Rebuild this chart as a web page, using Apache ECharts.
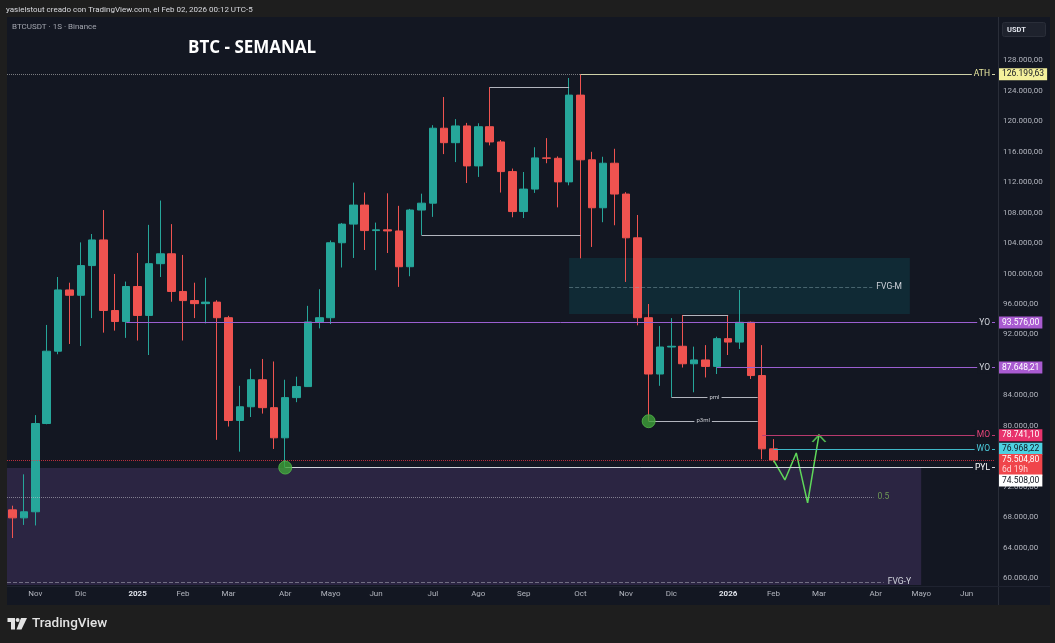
<!DOCTYPE html>
<html><head><meta charset="utf-8">
<script src="https://cdn.jsdelivr.net/npm/echarts@6/dist/echarts.min.js"></script>
<style>html,body{margin:0;padding:0;background:#1e1e1e;}#c{width:1055px;height:643px;}</style>
</head><body><div id="c"></div>
<script>
// ---------- categories (weekly candles, Monday open) ----------
const weeks = [
 '2024-10-21','2024-10-28','2024-11-04','2024-11-11','2024-11-18','2024-11-25','2024-12-02','2024-12-09','2024-12-16','2024-12-23',
 '2024-12-30','2025-01-06','2025-01-13','2025-01-20','2025-01-27','2025-02-03','2025-02-10','2025-02-17','2025-02-24','2025-03-03',
 '2025-03-10','2025-03-17','2025-03-24','2025-03-31','2025-04-07','2025-04-14','2025-04-21','2025-04-28','2025-05-05','2025-05-12',
 '2025-05-19','2025-05-26','2025-06-02','2025-06-09','2025-06-16','2025-06-23','2025-06-30','2025-07-07','2025-07-14','2025-07-21',
 '2025-07-28','2025-08-04','2025-08-11','2025-08-18','2025-08-25','2025-09-01','2025-09-08','2025-09-15','2025-09-22','2025-09-29',
 '2025-10-06','2025-10-13','2025-10-20','2025-10-27','2025-11-03','2025-11-10','2025-11-17','2025-11-24','2025-12-01','2025-12-08',
 '2025-12-15','2025-12-22','2025-12-29','2026-01-05','2026-01-12','2026-01-19','2026-01-26','2026-02-02','2026-02-09','2026-02-16',
 '2026-02-23','2026-03-02','2026-03-09','2026-03-16','2026-03-23','2026-03-30','2026-04-06','2026-04-13','2026-04-20','2026-04-27',
 '2026-05-04','2026-05-11','2026-05-18','2026-05-25','2026-06-01','2026-06-08','2026-06-15'
];
const monthTickWeeks = ['2024-11-04','2024-12-02','2025-01-06','2025-02-03','2025-03-03','2025-04-07','2025-05-05','2025-06-02','2025-07-07','2025-08-04',
 '2025-09-01','2025-10-06','2025-11-03','2025-12-01','2026-01-05','2026-02-02','2026-03-02','2026-04-06','2026-05-04','2026-06-01'];
const monthTickLabels = ['Nov','Dic','2025','Feb','Mar','Abr','Mayo','Jun','Jul','Ago','Sep','Oct','Nov','Dic','2026','Feb','Mar','Abr','Mayo','Jun'];
const priceTicks = [60000,64000,68000,72000,80000,84000,92000,96000,100000,104000,108000,112000,116000,120000,124000,128000];

// ---------- OHLC ----------
const opens = [68950,67900,68700,80300,89800,97850,97150,101050,104420,95150,
 93700,98300,94500,101300,102600,97650,96450,96050,96250,94200,
 80700,82500,86050,82380,78420,83700,85150,93650,94200,104050,
 106500,109000,105650,105750,105600,100900,108350,109250,119100,117200,
 119400,114150,119300,117300,113400,108150,111100,115200,115150,112050,
 123450,114950,108650,114500,110450,104700,94200,86800,90350,90450,
 88150,88650,87800,91450,91000,93600,86600,76968.22];
const closes = [67900,68700,80300,89800,97850,97150,101050,104420,95150,93700,
 98300,94500,101300,102600,97650,96450,96050,96250,94200,80700,
 82500,86050,82380,78420,83700,85150,93650,94200,104050,106500,
 109000,105650,105750,105600,100900,108350,109250,119100,117200,119400,
 114150,119300,117300,113400,108150,111100,115200,115150,112050,123450,
 114950,108650,114500,110450,104700,94200,86800,90350,90450,88150,
 88650,87800,91450,91000,93600,86600,76968.22,75504.80];
const lows = [65250,66970,66900,80200,89400,90750,90480,94150,92240,92500,
 91550,91200,89300,99550,96300,91200,94150,93450,78150,79900,
 76600,81150,81600,76950,74508,83100,85100,92800,93370,100800,
 102050,103100,100450,102700,98250,99650,105070,107450,115700,114650,
 111900,112700,116850,110650,107400,107300,110600,114500,108700,111600,
 102000,103500,106750,106350,98900,93200,80600,85250,83780,87650,
 84400,86350,86800,89300,90100,86150,75600,75200];
const highs = [69500,73620,81400,93250,99550,98800,104100,105200,108350,99950,
 98950,102700,106400,109600,106500,102450,98800,99450,96500,94450,
 85250,87480,88780,88450,86050,86450,95760,97950,104350,106650,
 111950,110650,106700,110550,108900,108500,110500,119500,123200,120300,
 119800,119750,124500,117550,113800,113350,116600,117800,115400,125700,
 126199.63,116000,115350,116400,110700,107700,96000,93100,94150,94560,
 90400,90600,91700,94560,97850,93700,90600,78250];

// ---------- levels ----------
const athLevel = 126199.63, athFrom = 50;
const yo2025Level = 93576.00, yo2025From = 10;
const yo2026Level = 87648.21, yo2026From = 62;
const moLevel = 78741.10, moFrom = 66;
const woLevel = 76968.22, woFrom = 67;
const lastPrice = 75504.80, timeLeft = '6d 19h';
const pylLevel = 74508.00, pylFrom = 24;
const augHigh = 124520, augFrom = 42, augTo = 49;
const julLow = 105070, julFrom = 36, julTo = 50;
const decHigh = 94560, decFrom = 59, decTo = 63;
const pmlLevel = 83780, pmlFrom = 58, pmlTo = 65.6;
const p3mlLevel = 80630, p3mlFrom = 56, p3mlTo = 65.6;
const fvgMTop = 102050, fvgMBottom = 94690, fvgMMid = 98240, fvgMFrom = 49, fvgMTo = 79, fvgMLineTo = 75.7;
const fvgYTop = 74450, fvgYHalf = 70650, fvgYLow = 59450, fvgYTo = 80, fvgYHalfTo = 75.8, fvgYLowTo = 76.7;
const lowDots = [[24, 74508], [56, 80600]];
const projection = [[67, 75500], [68, 72880], [69, 76430], [70, 69860], [71, 78790]];

// ---------- helpers ----------
const yMin = 59077, yMax = 133716;
const xFirst = -0.5, xLast = weeks.length - 0.5;
const FONT = 'Roboto, "Liberation Sans", sans-serif';
const BG = '#131722';
function fmtPrice(v){
  const s = Number(v).toFixed(2).split('.');
  return s[0].replace(/\B(?=(\d{3})+(?!\d))/g, '.') + ',' + s[1];
}
function seg(from, to, val, lineStyle, label){
  return [{coord:[from, val], lineStyle: lineStyle, label: label || {show:false}}, {coord:[to, val]}];
}
function tag(text, color){
  return {show:true, position:'insideEnd', distance:3, formatter:text, color:color, fontSize:8.5,
    fontFamily:FONT, backgroundColor:BG, padding:[1,2,1,2]};
}
function endText(text, color){
  return {show:true, position:'end', distance:4, formatter:text, color:color, fontSize:8.5, fontFamily:FONT};
}
function midText(text){
  return {show:true, position:'insideMiddle', formatter:text, color:'#c8cad0', fontSize:6, fontFamily:FONT,
    backgroundColor:BG, padding:[0,2,0,2]};
}
function box(val, text, bg, fg, offset){
  return {coord:[xLast, val], symbol:'rect', symbolSize:0,
    label:{show:true, position:'right', distance:4, formatter:text, color:fg, backgroundColor:bg,
      fontSize:8.5, fontFamily:FONT, padding:[1,3,1,3], offset: offset || [0,0], lineHeight:10,
      rich:{t:{color:'#ffd6d6', fontSize:8.5, fontFamily:FONT, lineHeight:10}}}};
}

const candleData = opens.map((o, i) => [o, closes[i], lows[i], highs[i]]);
const gray = '#b2b5be';

const option = {
  animation:false,
  backgroundColor:'#1e1e1e',
  grid:{left:7, top:17, width:988, height:568},
  xAxis:[
    {type:'category', data:weeks, boundaryGap:true,
     axisLine:{show:false}, axisTick:{show:false}, splitLine:{show:false},
     axisLabel:{interval:(i, v) => monthTickWeeks.indexOf(v) >= 0, margin:5,
       formatter:(v) => { const t = monthTickLabels[monthTickWeeks.indexOf(v)] || '';
         return /^\d{4}$/.test(t) ? '{y|' + t + '}' : t; },
       color:gray, fontSize:8, fontFamily:FONT,
       rich:{y:{color:'#e0e3eb', fontWeight:'bold', fontSize:8, fontFamily:FONT}}}},
    {type:'value', min:xFirst, max:xLast, show:false}
  ],
  yAxis:{type:'value', position:'right', min:yMin, max:yMax,
    axisLine:{show:false}, axisTick:{show:false}, splitLine:{show:false},
    axisLabel:{customValues:priceTicks, formatter:fmtPrice, color:gray, fontSize:8, fontFamily:FONT, margin:8}},
  graphic:[
    {type:'rect', z:-10, silent:true, shape:{x:7, y:17, width:1043, height:588}, style:{fill:BG}},
    {type:'line', z:-9, silent:true, shape:{x1:998.5, y1:17, x2:998.5, y2:605}, style:{stroke:'#2a2e39', lineWidth:1}},
    {type:'line', z:-9, silent:true, shape:{x1:7, y1:586.5, x2:1050, y2:586.5}, style:{stroke:'#1f2330', lineWidth:1}},
    {type:'text', silent:true, style:{text:'yasielstout creado con TradingView.com, el Feb 02, 2026 00:12 UTC-5', x:6, y:10,
      verticalAlign:'middle', fill:'#d9dadf', fontSize:8, fontFamily:FONT}},
    {type:'text', silent:true, style:{text:'BTCUSDT · 1S · Binance', x:12, y:27, verticalAlign:'middle',
      fill:'#a3a6af', fontSize:8, fontFamily:FONT}},
    {type:'text', silent:true, style:{text:'BTC - SEMANAL', x:188, y:48, verticalAlign:'middle',
      fill:'#ffffff', fontSize:17, fontWeight:'bold', fontFamily:'"Open Sans", sans-serif'}},
    {type:'rect', silent:true, shape:{x:1002.5, y:22.5, width:43, height:14, r:2}, style:{fill:'#1e222d', stroke:'#2a2e39'}},
    {type:'text', silent:true, style:{text:'USDT', x:1007, y:30, verticalAlign:'middle', fill:'#e0e3eb',
      fontSize:7.5, fontWeight:'bold', fontFamily:FONT}},
    // TradingView logo
    {type:'polygon', silent:true, shape:{points:[[7.5,618],[15,618],[15,629.5],[11,629.5],[11,622],[7.5,622]]}, style:{fill:'#e3e3e3'}},
    {type:'circle', silent:true, shape:{cx:17.6, cy:620, r:2}, style:{fill:'#e3e3e3'}},
    {type:'polygon', silent:true, shape:{points:[[21,618],[27,618],[21.5,629.5],[16.5,629.5]]}, style:{fill:'#e3e3e3'}},
    {type:'text', silent:true, style:{text:'TradingView', x:32, y:624, verticalAlign:'middle', fill:'#e3e3e3',
      fontSize:13.5, fontWeight:500, fontFamily:FONT}}
  ],
  series:[
    {type:'line', xAxisIndex:1, data:[], z:1, silent:true,
     markArea:{silent:true, data:[
       [{coord:[fvgMFrom, fvgMTop], itemStyle:{color:'rgba(0,160,170,0.14)'}}, {coord:[fvgMTo, fvgMBottom]}],
       [{coord:[xFirst, fvgYTop], itemStyle:{color:'rgba(140,95,195,0.2)'}}, {coord:[fvgYTo, yMin]}]
     ]}},
    {type:'candlestick', xAxisIndex:0, data:candleData, z:2, barWidth:8,
     itemStyle:{color:'#26a69a', color0:'#ef5350', borderColor:'#26a69a', borderColor0:'#ef5350', borderWidth:1}},
    {type:'line', xAxisIndex:1, data:[], z:3, silent:true,
     markLine:{silent:true, symbol:['none','none'], data:[
       seg(xFirst, athFrom, athLevel, {color:'rgba(190,190,190,0.6)', type:'dotted', width:1}),
       seg(athFrom, xLast, athLevel, {color:'#cfd1a8', type:'solid', width:1}, tag('ATH', '#e8e8a0')),
       seg(yo2025From, xLast, yo2025Level, {color:'#9b5fd1', type:'solid', width:1}, tag('YO', '#d1d4dc')),
       seg(yo2026From, xLast, yo2026Level, {color:'#9b5fd1', type:'solid', width:1}, tag('YO', '#d1d4dc')),
       seg(moFrom, xLast, moLevel, {color:'#b83a6e', type:'solid', width:1}, tag('MO', '#e8457a')),
       seg(woFrom, xLast, woLevel, {color:'#3fb8c8', type:'solid', width:1}, tag('WO', '#4dd0e1')),
       seg(xFirst, xLast, lastPrice, {color:'rgba(242,54,69,0.75)', type:'dotted', width:1}),
       seg(pylFrom, xLast, pylLevel, {color:'#d1d4dc', type:'solid', width:1}, tag('PYL', '#ffffff')),
       seg(augFrom, augTo, augHigh, {color:gray, type:'solid', width:1}),
       seg(julFrom, julTo, julLow, {color:gray, type:'solid', width:1}),
       seg(decFrom, decTo, decHigh, {color:gray, type:'solid', width:1}),
       seg(pmlFrom, pmlTo, pmlLevel, {color:gray, type:'solid', width:1}, midText('pml')),
       seg(p3mlFrom, p3mlTo, p3mlLevel, {color:gray, type:'solid', width:1}, midText('p3ml')),
       seg(fvgMFrom, fvgMLineTo, fvgMMid, {color:'rgba(140,170,180,0.45)', type:'dashed', width:1}, endText('FVG-M', '#d1d4dc')),
       seg(xFirst, fvgYHalfTo, fvgYHalf, {color:'rgba(200,200,210,0.55)', type:'dotted', width:1}, endText('0.5', '#6f9a56')),
       seg(xFirst, fvgYLowTo, fvgYLow, {color:'rgba(200,200,210,0.45)', type:'dashed', width:1}, endText('FVG-Y', '#d1d4dc'))
     ]}},
    {type:'line', xAxisIndex:1, data:projection, z:4, symbol:'none', silent:true,
     lineStyle:{color:'#5fd85a', width:1.5}},
    {type:'scatter', xAxisIndex:1, data:[projection[projection.length - 1]], z:4, silent:true,
     symbol:'path://M0,8 L7,0 L14,8', symbolSize:[13,7], symbolOffset:[0,'50%'], symbolKeepAspect:false,
     itemStyle:{color:'none', borderColor:'#5fd85a', borderWidth:1.5}},
    {type:'scatter', xAxisIndex:1, data:lowDots, z:5, silent:true, symbolSize:13,
     itemStyle:{color:'#3fa33a', borderColor:'#52b84a', borderWidth:1}},
    {type:'line', xAxisIndex:1, data:[], z:6, silent:true,
     markPoint:{silent:true, data:[
       box(athLevel, fmtPrice(athLevel), '#f4f19c', '#131722'),
       box(yo2025Level, fmtPrice(yo2025Level), '#a95bd1', '#ffffff'),
       box(yo2026Level, fmtPrice(yo2026Level), '#a95bd1', '#ffffff'),
       box(moLevel, fmtPrice(moLevel), '#e8336d', '#ffffff'),
       box(woLevel, fmtPrice(woLevel), '#4dd0e1', '#131722'),
       box(lastPrice, fmtPrice(lastPrice) + '\n{t|' + timeLeft + '}', '#f0454b', '#ffffff', [0,5]),
       box(pylLevel, fmtPrice(pylLevel), '#ffffff', '#131722', [0,13])
     ]}}
  ]
};
const chart = echarts.init(document.getElementById('c'));
chart.setOption(option);
</script></body></html>
